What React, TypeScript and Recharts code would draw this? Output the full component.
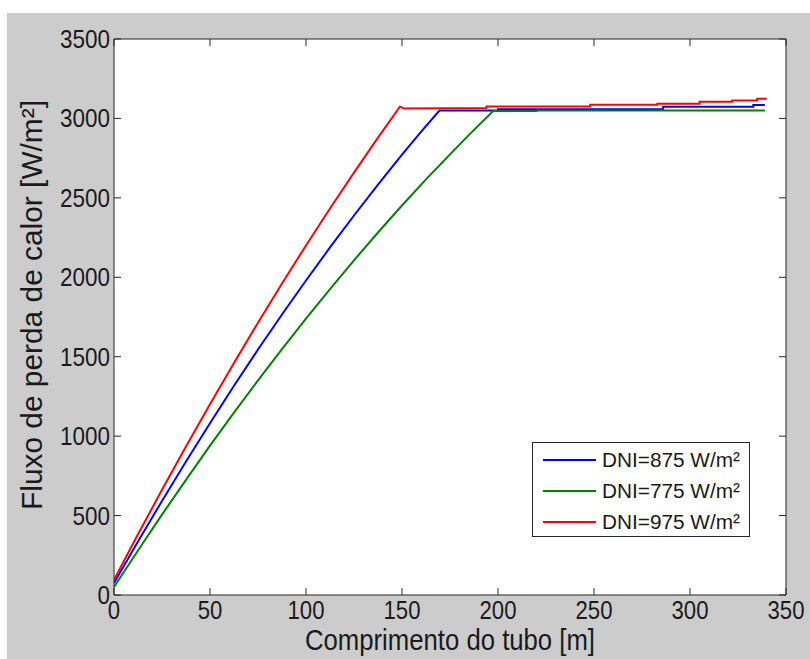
import { LineChart, Line, XAxis, YAxis, CartesianGrid, Label } from 'recharts'

// Comprimento do tubo [m] vs fluxo de perda de calor [W/m²]
const dni875X = [0, 12.5, 25, 37.5, 50, 62.5, 75, 87.5, 100, 112.5, 125, 137.5, 150, 160, 169.5, 200, 200, 286, 286, 333, 333, 339]
const dni875Y = [75, 337, 592, 840, 1081, 1317, 1545, 1766, 1980, 2188, 2389, 2583, 2772, 2917, 3050, 3050, 3058, 3058, 3074, 3074, 3085, 3085]

const dni775X = [0, 12.5, 25, 37.5, 50, 62.5, 75, 87.5, 100, 112.5, 125, 137.5, 150, 162.5, 175, 185, 197.5, 220, 220, 339]
const dni775Y = [50, 280, 506, 725, 940, 1148, 1351, 1548, 1740, 1926, 2107, 2282, 2452, 2616, 2774, 2898, 3046, 3046, 3050, 3050]

const dni975X = [0, 12.5, 25, 37.5, 50, 62.5, 75, 87.5, 100, 112.5, 125, 137.5, 149, 151, 194, 194, 248, 248, 283, 283, 305, 305, 322, 322, 335, 335, 340]
const dni975Y = [95, 382, 662, 935, 1201, 1461, 1714, 1961, 2200, 2433, 2659, 2879, 3075, 3062, 3065, 3075, 3075, 3086, 3086, 3093, 3093, 3105, 3105, 3113, 3113, 3124, 3124]

const xTicks = [0, 50, 100, 150, 200, 250, 300, 350]
const yTicks = [0, 500, 1000, 1500, 2000, 2500, 3000, 3500]

const series = [
  { name: 'DNI=875 W/m²', color: '#0000ff', xs: dni875X, ys: dni875Y },
  { name: 'DNI=775 W/m²', color: '#008000', xs: dni775X, ys: dni775Y },
  { name: 'DNI=975 W/m²', color: '#ff0000', xs: dni975X, ys: dni975Y },
]

const toPoints = (xs: number[], ys: number[]) => xs.map((x, i) => ({ x, y: ys[i] }))

const FONT = "'Liberation Sans', Arial, sans-serif"
const INK = '#1a1a1a'
const AXIS = '#262626'
const TICK = 7

function BottomTick({ x, y, payload }: any) {
  const s = String(payload.value)
  return (
    <g>
      <line x1={x} y1={y} x2={x} y2={y - TICK} stroke={AXIS} />
      <text x={x} y={y + 24} textAnchor="middle" fontSize={25} fontFamily={FONT} fill={INK}
        textLength={12.3 * s.length} lengthAdjust="spacingAndGlyphs">{s}</text>
    </g>
  )
}

function TopTick({ x, y }: any) {
  return <line x1={x} y1={y} x2={x} y2={y + TICK} stroke={AXIS} />
}

function LeftTick({ x, y, payload }: any) {
  const s = String(payload.value)
  return (
    <g>
      <line x1={x} y1={y} x2={x + TICK} y2={y} stroke={AXIS} />
      <text x={x - 4} y={y + 9} textAnchor="end" fontSize={25} fontFamily={FONT} fill={INK}
        textLength={12.5 * s.length} lengthAdjust="spacingAndGlyphs">{s}</text>
    </g>
  )
}

function RightTick({ x, y }: any) {
  return <line x1={x} y1={y} x2={x - TICK} y2={y} stroke={AXIS} />
}

function LegendBox() {
  return (
    <svg width={218} height={95} style={{ position: 'absolute', left: 525, top: 429, display: 'block' }}>
      <rect x={0.5} y={0.5} width={217} height={94} fill="#fff" stroke={AXIS} />
      {series.map((s, i) => (
        <g key={s.name}>
          <line x1={11} x2={64} y1={18 + 31 * i} y2={18 + 31 * i} stroke={s.color} strokeWidth={2} />
          <text x={70} y={25 + 31 * i} fontSize={20} fontFamily={FONT} fill={INK}
            textLength={138} lengthAdjust="spacingAndGlyphs">{s.name}</text>
        </g>
      ))}
    </svg>
  )
}

export default function App() {
  return (
    <div style={{ position: 'absolute', left: 7, top: 13, width: 803, height: 646, background: '#cccccc' }}>
      <LineChart width={803} height={646} margin={{ top: 25, right: 23, left: 47, bottom: 0 }}>
        <CartesianGrid horizontal={false} vertical={false} fill="#ffffff" />
        <XAxis type="number" dataKey="x" domain={[0, 350]} ticks={xTicks} interval={0} allowDataOverflow
          height={64} tickSize={0} tickMargin={0} tickLine={false} stroke={AXIS} tick={<BottomTick />}>
          <Label content={({ viewBox }: any) => (
            <text x={viewBox.x + viewBox.width / 2} y={viewBox.y + 55} textAnchor="middle" fontSize={29}
              fontFamily={FONT} fill={INK} textLength={290} lengthAdjust="spacingAndGlyphs">
              Comprimento do tubo [m]
            </text>
          )} />
        </XAxis>
        <XAxis xAxisId="top" orientation="top" type="number" dataKey="x" domain={[0, 350]} ticks={xTicks}
          interval={0} allowDataOverflow height={1} tickSize={0} tickMargin={0} tickLine={false} stroke={AXIS}
          tick={<TopTick />} />
        <YAxis type="number" domain={[0, 3500]} ticks={yTicks} interval={0} allowDataOverflow width={60}
          tickSize={0} tickMargin={0} tickLine={false} stroke={AXIS} tick={<LeftTick />}>
          <Label content={({ viewBox }: any) => {
            const cx = 35
            const cy = viewBox.y + viewBox.height / 2 - 12
            return (
              <text x={cx} y={cy} transform={`rotate(-90 ${cx} ${cy})`} textAnchor="middle" fontSize={29}
                fontFamily={FONT} fill={INK} textLength={410} lengthAdjust="spacingAndGlyphs">
                Fluxo de perda de calor [W/m²]
              </text>
            )
          }} />
        </YAxis>
        <YAxis yAxisId="right" orientation="right" type="number" domain={[0, 3500]} ticks={yTicks} interval={0}
          allowDataOverflow width={1} tickSize={0} tickMargin={0} tickLine={false} stroke={AXIS}
          tick={<RightTick />} />
        {series.map((s) => (
          <Line key={s.name} data={toPoints(s.xs, s.ys)} dataKey="y" name={s.name} type="linear"
            stroke={s.color} strokeWidth={2} dot={false} isAnimationActive={false} />
        ))}
      </LineChart>
      <LegendBox />
    </div>
  )
}
